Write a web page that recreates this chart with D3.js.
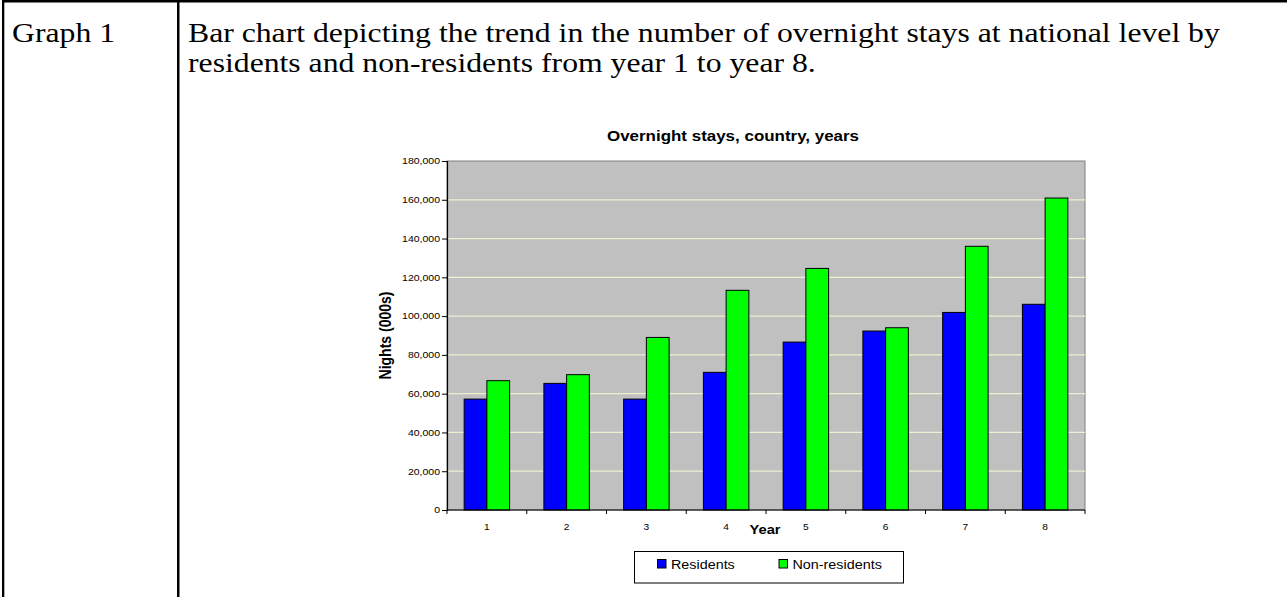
<!DOCTYPE html>
<html>
<head>
<meta charset="utf-8">
<script src="https://cdn.jsdelivr.net/npm/d3@7"></script>
<style>
  html, body { margin: 0; padding: 0; background: #fff; }
  svg { display: block; }
</style>
</head>
<body>
<svg id="page" width="1287" height="597"></svg>
<script>
// Overnight stays (thousands of nights) per year
const years = ["1", "2", "3", "4", "5", "6", "7", "8"];
const residents = [57200, 65300, 57200, 71000, 86600, 92300, 101900, 106100];
const nonResidents = [66700, 69800, 89000, 113300, 124600, 94000, 136000, 160900];
const seriesNames = ["Residents", "Non-residents"];
const seriesColors = ["#0000FF", "#00FF00"];
const yTicks = [0, 20000, 40000, 60000, 80000, 100000, 120000, 140000, 160000, 180000];

const svg = d3.select("#page");
const SX = 1.13; // horizontal stretch applied to the chart lettering

function label(parent, x, y, txt, opts = {}) {
  const sx = opts.sx || SX;
  const g = parent.append("g")
    .attr("transform", `translate(${x},${y}) scale(${sx},1)` + (opts.rotate ? ` rotate(${opts.rotate})` : ""));
  return g.append("text")
    .attr("text-anchor", opts.anchor || "start")
    .attr("dominant-baseline", opts.baseline || "auto")
    .attr("font-family", opts.family || "Liberation Sans, Arial, sans-serif")
    .attr("font-size", opts.size || 10)
    .attr("font-weight", opts.weight || "normal")
    .attr("fill", "#000")
    .text(txt);
}

// ---- table frame ----
svg.append("rect").attr("x", 2).attr("y", 0).attr("width", 1285).attr("height", 2.5).attr("fill", "#000");
svg.append("rect").attr("x", 2).attr("y", 0).attr("width", 2.3).attr("height", 597).attr("fill", "#000");
svg.append("rect").attr("x", 177).attr("y", 0).attr("width", 2.5).attr("height", 597).attr("fill", "#000");

const serif = "Liberation Serif, Times New Roman, serif";
const serifOpts = { family: serif, size: 27, sx: 1.175 };
label(svg, 12, 42, "Graph 1", serifOpts);
label(svg, 188, 42, "Bar chart depicting the trend in the number of overnight stays at national level by", serifOpts);
label(svg, 188, 72, "residents and non-residents from year 1 to year 8.", serifOpts);

// ---- chart ----
const plot = { left: 447, right: 1085, top: 161, bottom: 510 };

const x0 = d3.scaleBand().domain(years).range([plot.left, plot.right])
  .paddingInner(0.43).paddingOuter(0.215);
const x1 = d3.scaleBand().domain(seriesNames).range([0, x0.bandwidth()]);
const y = d3.scaleLinear().domain([0, 180000]).range([plot.bottom, plot.top]);

// plot background
svg.append("rect")
  .attr("x", plot.left).attr("y", plot.top)
  .attr("width", plot.right - plot.left).attr("height", plot.bottom - plot.top)
  .attr("fill", "#C0C0C0").attr("stroke", "#808080").attr("stroke-width", 1);

// horizontal gridlines
svg.append("g").selectAll("line")
  .data(yTicks.filter(d => d > 0 && d < 180000))
  .join("line")
  .attr("x1", plot.left).attr("x2", plot.right)
  .attr("y1", d => y(d)).attr("y2", d => y(d))
  .attr("stroke", "#EEEED2").attr("stroke-width", 1.2);

// bars
const rows = years.map((yr, i) => ({ year: yr, values: [residents[i], nonResidents[i]] }));
const groups = svg.append("g").selectAll("g")
  .data(rows).join("g")
  .attr("transform", d => `translate(${x0(d.year)},0)`);
groups.selectAll("rect")
  .data(d => d.values.map((v, k) => ({ key: seriesNames[k], value: v, color: seriesColors[k] })))
  .join("rect")
  .attr("x", d => x1(d.key))
  .attr("y", d => y(d.value))
  .attr("width", x1.bandwidth())
  .attr("height", d => y(0) - y(d.value))
  .attr("fill", d => d.color)
  .attr("stroke", "#000").attr("stroke-width", 1);

// y axis
const yAxis = d3.axisLeft(y).tickValues(yTicks).tickSize(5).tickFormat(() => "");
const yG = svg.append("g").attr("transform", `translate(${plot.left},0)`).call(yAxis);
yG.select(".domain").attr("stroke", "#000").attr("stroke-width", 1.2);
yG.selectAll(".tick line").attr("stroke", "#000");
const fmt = d3.format(",");
yTicks.forEach(t => label(svg, 440, y(t), fmt(t), { anchor: "end", baseline: "central", size: 9.3 }));

// x axis with ticks at category boundaries
const boundaries = d3.range(years.length + 1).map(i => plot.left + i * (plot.right - plot.left) / years.length);
svg.append("line").attr("x1", plot.left).attr("x2", plot.right)
  .attr("y1", plot.bottom).attr("y2", plot.bottom).attr("stroke", "#000").attr("stroke-width", 1.2);
svg.append("g").selectAll("line").data(boundaries).join("line")
  .attr("x1", d => d).attr("x2", d => d)
  .attr("y1", plot.bottom).attr("y2", plot.bottom + 4)
  .attr("stroke", "#000");
years.forEach(yr => label(svg, x0(yr) + x0.bandwidth() / 2, 530, yr, { anchor: "middle", size: 9 }));

// titles
label(svg, 733, 141, "Overnight stays, country, years", { anchor: "middle", size: 15, weight: "bold" });
label(svg, 765, 534, "Year", { anchor: "middle", size: 13, weight: "bold" });
label(svg, 391, 335.5, "Nights (000s)", { anchor: "middle", size: 14, weight: "bold", rotate: -90 });

// legend
const legend = svg.append("g");
legend.append("rect").attr("x", 634.5).attr("y", 551.5).attr("width", 269).attr("height", 31.5)
  .attr("fill", "#fff").attr("stroke", "#000").attr("stroke-width", 1);
const legendX = [657.5, 779];
seriesNames.forEach((name, k) => {
  legend.append("rect").attr("x", legendX[k]).attr("y", 559.5).attr("width", 8.5).attr("height", 8.5)
    .attr("fill", seriesColors[k]).attr("stroke", "#000").attr("stroke-width", 1);
  label(legend, legendX[k] + 13.5, 568.5, name, { size: 12.7 });
});
</script>
</body>
</html>
